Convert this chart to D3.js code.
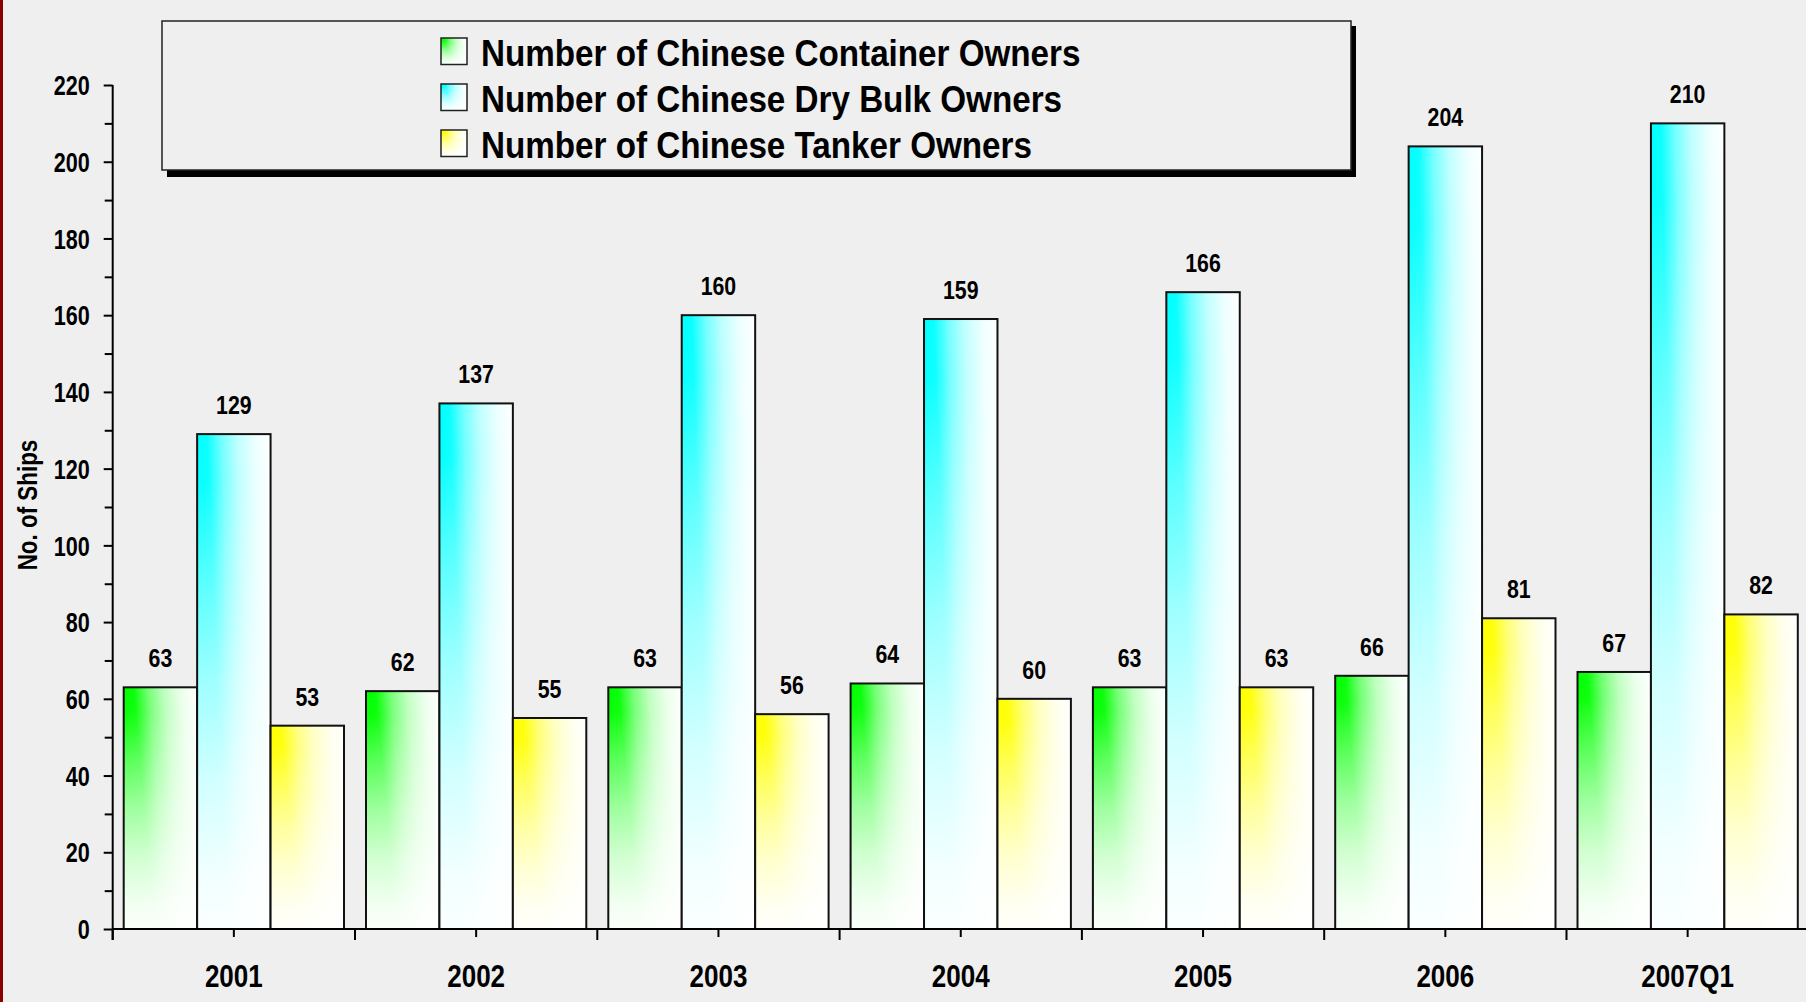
<!DOCTYPE html>
<html>
<head>
<meta charset="utf-8">
<script src="https://cdn.jsdelivr.net/npm/d3@7/dist/d3.min.js"></script>
<style>
  html, body { margin: 0; padding: 0; background: #EFEFEF; overflow: hidden; }
  svg text { font-family: "Liberation Sans", Arial, sans-serif; font-weight: bold; fill: #000; }
</style>
</head>
<body>
<svg id="chart" width="1806" height="1002"></svg>
<script>
// Chinese ship owners by segment, 2001 – 2007Q1
const categories = ["2001", "2002", "2003", "2004", "2005", "2006", "2007Q1"];
const containerOwners = [63, 62, 63, 64, 63, 66, 67];
const dryBulkOwners   = [129, 137, 160, 159, 166, 204, 210];
const tankerOwners    = [53, 55, 56, 60, 63, 81, 82];
const seriesNames = [
  "Number of Chinese Container Owners",
  "Number of Chinese Dry Bulk Owners",
  "Number of Chinese Tanker Owners"
];
const seriesColors = ["#00FF00", "#00FFFF", "#FFFF00"];
const yTicks = [0, 20, 40, 60, 80, 100, 120, 140, 160, 180, 200, 220];

const seriesValues = [containerOwners, dryBulkOwners, tankerOwners];

const svg = d3.select("#chart");
const W = 1806, H = 1002;

svg.append("rect").attr("width", W).attr("height", H).attr("fill", "#EFEFEF");
svg.append("rect").attr("x", 0).attr("y", 0).attr("width", 3).attr("height", H).attr("fill", "#8B0000");

const plotLeft = 112.7, plotBottom = 929, plotTop = 85;
const groupWidth = 242.3;

const y = d3.scaleLinear().domain([0, 220]).range([plotBottom, plotTop]);
const x0 = d3.scaleBand().domain(categories)
  .range([plotLeft, plotLeft + groupWidth * categories.length])
  .paddingInner(0).paddingOuter(0);
const gap = 22;
const x1 = d3.scaleBand().domain(d3.range(seriesNames.length))
  .range([gap / 2, x0.bandwidth() - gap / 2]).padding(0);

// Condensed bold lettering: squeeze a text element horizontally about its anchor
function condense(sel, sx) {
  sel.each(function () {
    const t = d3.select(this);
    const x = +t.attr("x") || 0;
    const yy = +t.attr("y") || 0;
    const base = t.attr("data-base") || "";
    t.attr("x", 0).attr("y", 0)
      .attr("transform", `${base} translate(${x},${yy}) scale(${sx},1)`);
  });
}

// Shaded fills: colour in the top-left corner fading to white towards the right and bottom
const defs = svg.append("defs");
seriesColors.forEach((c, i) => {
  const g = defs.append("linearGradient").attr("id", "h" + i)
    .attr("x1", 0).attr("y1", 0).attr("x2", 1).attr("y2", -0.3);
  const mix = t => d3.interpolateRgb(c, "#FFFFFF")(t);
  [[0, 0], [0.12, 0.04], [0.3, 0.45], [0.5, 0.75], [0.72, 0.93], [0.92, 1]].forEach(([o, t]) =>
    g.append("stop").attr("offset", o).attr("stop-color", mix(t)));
});
const fade = defs.append("linearGradient").attr("id", "vfade")
  .attr("x1", 0).attr("y1", 0).attr("x2", 0).attr("y2", 1);
[[0, 0], [0.1, 0.03], [0.3, 0.35], [0.5, 0.62], [0.7, 0.82], [0.9, 0.95], [1, 0.98]].forEach(([o, a]) =>
  fade.append("stop").attr("offset", o).attr("stop-color", "#FFFFFF").attr("stop-opacity", a));

// Bars
const rows = categories.map((c, ci) => ({
  cat: c,
  vals: seriesValues.map((s, si) => ({ si, v: s[ci] }))
}));

const groups = svg.append("g").selectAll("g").data(rows).join("g")
  .attr("transform", d => `translate(${x0(d.cat)},0)`);

const bar = groups.selectAll("g.bar").data(d => d.vals).join("g").attr("class", "bar");
bar.append("rect")
  .attr("x", d => x1(d.si)).attr("y", d => y(d.v))
  .attr("width", x1.bandwidth()).attr("height", d => y(0) - y(d.v))
  .attr("fill", d => `url(#h${d.si})`);
bar.append("rect")
  .attr("x", d => x1(d.si)).attr("y", d => y(d.v))
  .attr("width", x1.bandwidth()).attr("height", d => y(0) - y(d.v))
  .attr("fill", "url(#vfade)")
  .attr("stroke", "#111").attr("stroke-width", 2);
bar.append("text")
  .attr("x", d => x1(d.si) + x1.bandwidth() / 2)
  .attr("y", d => y(d.v) - 20)
  .attr("text-anchor", "middle")
  .attr("font-size", 26)
  .text(d => d.v)
  .call(condense, 0.82);

// Y axis with major and minor ticks
const yAxis = svg.append("g").attr("transform", `translate(${plotLeft},0)`)
  .call(d3.axisLeft(y).tickValues(yTicks).tickSize(9).tickSizeOuter(0).tickPadding(14));
yAxis.select(".domain").remove();
yAxis.selectAll("line").attr("stroke", "#000").attr("stroke-width", 2);
yAxis.selectAll("text").attr("font-size", 27).attr("font-family", null)
  .attr("dy", null).attr("y", 9.7).call(condense, 0.8);

const yMinor = svg.append("g").attr("transform", `translate(${plotLeft},0)`)
  .call(d3.axisLeft(y).tickValues(d3.range(10, 220, 20)).tickSize(8).tickFormat(""));
yMinor.select(".domain").remove();
yMinor.selectAll("line").attr("stroke", "#000").attr("stroke-width", 2);

svg.append("line").attr("x1", plotLeft).attr("x2", plotLeft)
  .attr("y1", plotTop).attr("y2", plotBottom + 11)
  .attr("stroke", "#000").attr("stroke-width", 2);

// X axis: category labels, centre ticks and group boundary ticks
const xAxis = svg.append("g").attr("transform", `translate(0,${plotBottom})`)
  .call(d3.axisBottom(x0).tickSize(8).tickSizeOuter(0));
xAxis.select(".domain").remove();
xAxis.selectAll("line").attr("stroke", "#000").attr("stroke-width", 2);
xAxis.selectAll("text").attr("font-size", 31).attr("font-family", null)
  .attr("dy", null).attr("y", 58).call(condense, 0.84);

svg.append("g").selectAll("line")
  .data(categories.map(c => x0(c)).concat([x0.range()[1]]))
  .join("line")
  .attr("x1", d => d).attr("x2", d => d)
  .attr("y1", plotBottom).attr("y2", plotBottom + 11)
  .attr("stroke", "#000").attr("stroke-width", 2);

svg.append("line").attr("x1", plotLeft).attr("x2", W)
  .attr("y1", plotBottom).attr("y2", plotBottom)
  .attr("stroke", "#000").attr("stroke-width", 2);

// Axis title
svg.append("text")
  .attr("data-base", "translate(37,505) rotate(-90)")
  .attr("text-anchor", "middle")
  .attr("font-size", 28)
  .text("No. of Ships")
  .call(condense, 0.8);

// Legend
const lg = svg.append("g");
lg.append("rect").attr("x", 167).attr("y", 26).attr("width", 1189).attr("height", 151).attr("fill", "#000");
lg.append("rect").attr("x", 162).attr("y", 21).attr("width", 1189).attr("height", 149)
  .attr("fill", "#EFEFEF").attr("stroke", "#222").attr("stroke-width", 1.5);

const items = lg.selectAll("g.item").data(seriesNames).join("g").attr("class", "item")
  .attr("transform", (d, i) => `translate(441,${38 + i * 46})`);
items.append("rect").attr("width", 26).attr("height", 26.5).attr("fill", (d, i) => `url(#h${i})`);
items.append("rect").attr("width", 26).attr("height", 26.5).attr("fill", "url(#vfade)")
  .attr("stroke", "#222").attr("stroke-width", 1.5);
items.append("text").attr("x", 40).attr("y", 28).attr("font-size", 36.5).text(d => d)
  .call(condense, 0.91);
</script>
</body>
</html>
